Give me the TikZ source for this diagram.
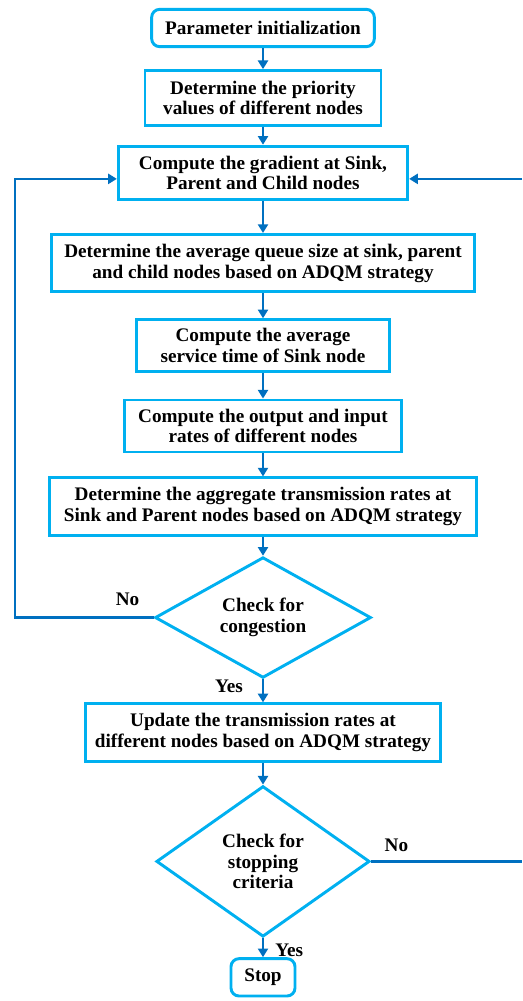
\documentclass[tikz,border=0pt]{standalone}
\usepackage{fontspec}
\setmainfont{Liberation Serif}
\usetikzlibrary{arrows.meta, positioning, shapes.geometric}
\definecolor{boxcyan}{HTML}{00B0F0}
\definecolor{flowblue}{HTML}{0070C0}

\begin{document}
\begin{tikzpicture}[
  x=0.75pt, y=-0.75pt,
  font=\fontsize{14.4}{15.5}\selectfont\bfseries,
  proc/.style={rectangle, draw=boxcyan, line width=2.2pt, align=center, inner sep=2pt},
  term/.style={proc, rounded corners=6pt},
  decide/.style={diamond, draw=boxcyan, line width=2.2pt, align=center, inner sep=0pt},
  flow/.style={-{Triangle[length=6.5pt, width=7.5pt]}, draw=flowblue, line width=2pt},
  lbl/.style={inner sep=0pt}
]
\useasboundingbox (0,0) rectangle (522,1001);
\coordinate (lx) at (15,0);
\coordinate (rx) at (522,0);

\node[term, minimum width=167pt, minimum height=28pt] (init) at (263,28) {Parameter initialization};
\node[proc, minimum width=177pt, minimum height=41pt, below=15.75pt of init] (prio)
  {Determine the priority\\values of different nodes};
\node[proc, minimum width=217pt, minimum height=40pt, below=13.5pt of prio] (grad)
  {Compute the gradient at Sink,\\Parent and Child nodes};
\node[proc, minimum width=317.5pt, minimum height=43pt, below=24pt of grad] (queue)
  {Determine the average queue size at sink, parent\\and child nodes based on ADQM strategy};
\node[proc, minimum width=190pt, minimum height=38.5pt, below=18.75pt of queue] (serv)
  {Compute the average\\service time of Sink node};
\node[proc, minimum width=208pt, minimum height=39pt, below=19.5pt of serv] (rates)
  {Compute the output and input\\rates of different nodes};
\node[proc, minimum width=320.5pt, minimum height=43pt, below=17.25pt of rates] (aggr)
  {Determine the aggregate transmission rates at\\Sink and Parent nodes based on ADQM strategy};
\node[decide, aspect=1.8, minimum width=162pt, minimum height=90.5pt, below=14.25pt of aggr] (cong)
  {Check for\\congestion};
\node[proc, minimum width=266pt, minimum height=43pt, below=17.25pt of cong] (upd)
  {Update the transmission rates at\\different nodes based on ADQM strategy};
\node[decide, aspect=1.4, minimum width=160pt, minimum height=113pt, below=16.5pt of upd] (crit)
  {Check for\\stopping\\criteria};
\node[term, minimum width=48pt, minimum height=28pt, below=14.25pt of crit] (stop) {Stop};

\draw[flow] (init) -- (prio);
\draw[flow] (prio) -- (grad);
\draw[flow] (grad) -- (queue);
\draw[flow] (queue) -- (serv);
\draw[flow] (serv) -- (rates);
\draw[flow] (rates) -- (aggr);
\draw[flow] (aggr) -- (cong);
\draw[flow] (cong) -- (upd);
\draw[flow] (upd) -- (crit);
\draw[flow] (crit) -- (stop);

% loop back when congested
\draw[flow] (cong.west) -- (cong.west -| lx) |- ([yshift=-4.5pt]grad.west);
\draw[flow, -] (crit.east) -- (crit.east -| rx);
\draw[flow] ([yshift=-4.5pt]grad.east -| rx) -- ([yshift=-4.5pt]grad.east);

\node[lbl, above left=9pt and 10.5pt of cong.west] (no1) {No};
\node[lbl, below left=0pt and 15pt of cong.south] (yes1) {Yes};
\node[lbl, above right=7pt and 10pt of crit.east] (no2) {No};
\node[lbl, below right=4pt and 9pt of crit.south] (yes2) {Yes};
\end{tikzpicture}
\end{document}
